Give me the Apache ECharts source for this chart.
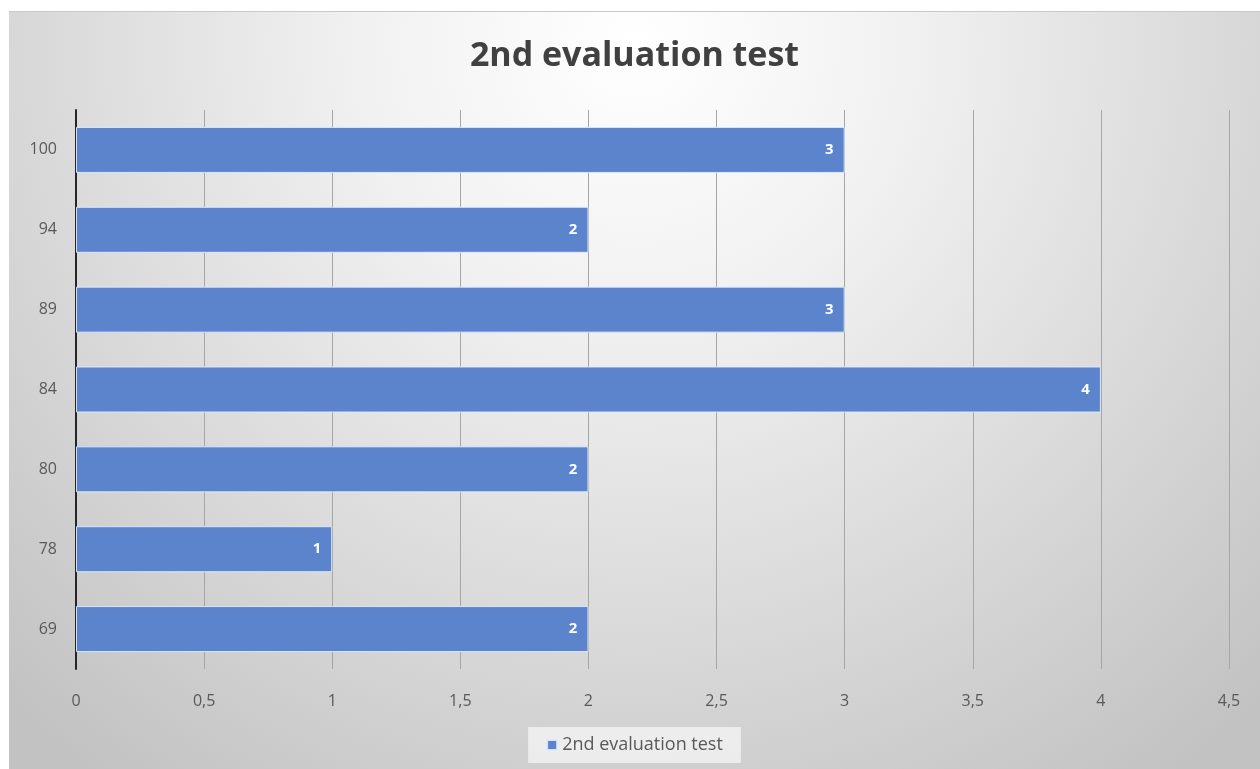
<!DOCTYPE html>
<html>
<head>
<meta charset="utf-8">
<script src="https://cdn.jsdelivr.net/npm/echarts@6/dist/echarts.min.js"></script>
<style>
  html, body { margin: 0; padding: 0; background: #ffffff; width: 1260px; height: 769px; overflow: hidden; }
  #chart { position: absolute; left: 9px; top: 11px; width: 1251px; height: 758px;
           border-top: 1px solid #c8c8c8; box-sizing: border-box; }
</style>
</head>
<body>
<div id="chart"></div>
<script>
// Score categories (bottom to top) and how many students got each score
const scores = ['69', '78', '80', '84', '89', '94', '100'];
const counts = [2, 1, 2, 4, 3, 2, 3];
const seriesName = '2nd evaluation test';
const chartTitle = '2nd evaluation test';

const chart = echarts.init(document.getElementById('chart'));
const FONT = '"Open Sans", "Noto Sans", sans-serif';

chart.setOption({
  backgroundColor: {
    type: 'radial', x: 0.5, y: 0.04, r: 1.2,
    colorStops: [
      { offset: 0, color: '#ffffff' },
      { offset: 0.3, color: '#f1f1f1' },
      { offset: 1, color: '#c2c2c2' }
    ]
  },
  title: {
    text: chartTitle,
    left: 'center',
    top: 22,
    textStyle: { fontFamily: FONT, fontSize: 34, fontWeight: 'bold', color: '#404040' }
  },
  legend: {
    bottom: 6,
    left: 'center',
    data: [seriesName],
    icon: 'rect',
    itemWidth: 10,
    itemHeight: 10,
    itemGap: 6,
    padding: [9, 18],
    backgroundColor: 'rgba(245,245,245,0.75)',
    textStyle: { fontFamily: FONT, fontSize: 18, color: '#595959' }
  },
  grid: { left: 67, right: 31, top: 98, bottom: 100, containLabel: false },
  xAxis: {
    type: 'value',
    min: 0,
    max: 4.5,
    interval: 0.5,
    axisLine: { show: false },
    axisTick: { show: false },
    splitLine: { show: true, lineStyle: { color: '#a6a6a6', width: 1 } },
    axisLabel: {
      margin: 24,
      fontFamily: FONT, fontSize: 16, color: '#595959',
      formatter: v => String(v).replace('.', ',')
    }
  },
  yAxis: {
    type: 'category',
    data: scores,
    axisLine: { show: true, lineStyle: { color: '#262626', width: 2 } },
    axisTick: { show: false },
    axisLabel: { margin: 19, fontFamily: FONT, fontSize: 16, color: '#595959' }
  },
  series: [{
    name: seriesName,
    type: 'bar',
    data: counts,
    barWidth: 46,
    itemStyle: { color: '#5b84cc', borderColor: 'rgba(225,236,250,0.9)', borderWidth: 1 },
    label: {
      show: true,
      position: 'insideRight',
      distance: 11,
      fontFamily: FONT, fontSize: 15, fontWeight: 'bold', color: '#ffffff'
    }
  }]
});
</script>
</body>
</html>
